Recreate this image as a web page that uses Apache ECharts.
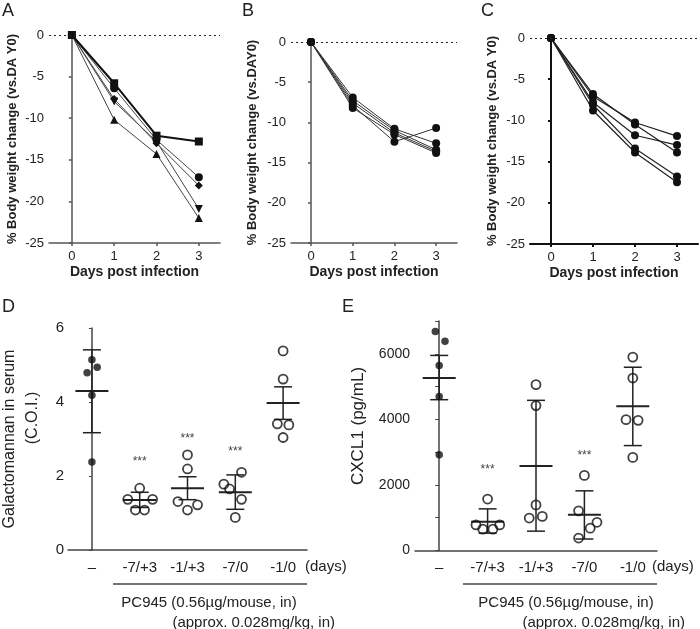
<!DOCTYPE html>
<html><head><meta charset="utf-8">
<script src="https://cdn.jsdelivr.net/npm/echarts@6/dist/echarts.min.js"></script>
<style>html,body{margin:0;padding:0;background:#fff}#c{width:700px;height:629px}</style>
</head><body><div id="c"></div>
<script>
// ---------- data ----------
const days = [0, 1, 2, 3];
// Panel A (body weight change, %)
const aSquare   = [0, -5.8, -12.1, -12.8];
const aCircle   = [0, -6.4, -12.6, -17.1];
const aDiamond  = [0, -7.7, -13.0, -18.1];
const aDownTri  = [0, -8.0, -12.8, -20.9];
const aTriangle = [0, -10.2, -14.3, -22.0];
// Panel B
const b1 = [0, -6.9, -10.8, -12.6];
const b2 = [0, -7.3, -11.0, -13.4];
const b3 = [0, -7.6, -11.3, -13.6];
const b4 = [0, -7.9, -12.4, -10.7];
const b5 = [0, -8.2, -11.5, -13.8];
// Panel C
const c1 = [0, -7.1, -10.25, -11.9];
const c2 = [0, -6.8, -10.5, -13.9];
const c3 = [0, -7.8, -11.8, -13.0];
const c4 = [0, -8.1, -13.4, -16.8];
const c5 = [0, -8.8, -13.9, -17.5];

// Panels D/E groups
const groups = ['\u2013', '-7/+3', '-1/+3', '-7/0', '-1/0'];
// Panel D: Galactomannan (C.O.I.)
const gmValues = [[5.14, 4.94, 4.79, 4.18, 2.38], [1.67, 1.37, 1.37, 1.08, 1.08], [2.57, 2.19, 1.31, 1.08, 1.22], [2.10, 1.78, 1.65, 1.37, 0.88], [5.38, 4.62, 3.41, 3.38, 3.04]];
const gmJitter = [[0, 0.11, -0.1, 0, 0], [0, -0.25, 0.27, -0.09, 0.1], [0, 0, -0.2, 0, 0.21], [0.13, -0.24, -0.12, 0.13, 0], [0, 0, -0.12, 0.12, 0]];
const gmMean = [4.30, 1.35, 1.67, 1.56, 3.97];
const gmLow  = [3.17, 1.15, 1.36, 1.10, 3.53];
const gmHigh = [5.41, 1.56, 1.98, 2.03, 4.41];
const gmStars = [null, 2.4, 3.0, 2.65, null];
// Panel E: CXCL1 (pg/mL)
const cxValues = [[6680, 6380, 5640, 4700, 2920], [1570, 780, 780, 650, 650], [5060, 4420, 1390, 990, 1040], [2290, 1210, 860, 680, 380], [5900, 5260, 3990, 3970, 2840]];
const cxJitter = [[-0.08, 0.12, 0, 0, 0], [0, -0.24, 0.25, -0.1, 0.11], [0, 0, 0, -0.14, 0.13], [0, -0.12, 0.26, 0.12, -0.12], [0, 0, -0.14, 0.11, 0]];
const cxMean = [5260, 880, 2580, 1090, 4400];
const cxLow  = [4600, 530, 590, 350, 3200];
const cxHigh = [5950, 1270, 4580, 1820, 5590];
const cxStars = [null, 2460, null, 2890, null];
// tick values
const dayTicks = [0, 1, 2, 3];

// ---------- helpers ----------
const FONT = '"Liberation Sans", Arial, sans-serif';
const pts = arr => days.map((d, i) => [d, arr[i]]);

function lineAxisX(grid, min, axisColor, axisW) {
  return {
    type: 'value', gridIndex: grid, min: min, max: 3.5,
    axisLine: {show: true, onZero: false, lineStyle: {color: axisColor, width: axisW}},
    axisTick: {show: true, length: 3, customValues: dayTicks, lineStyle: {color: axisColor, width: axisW}},
    axisLabel: {customValues: dayTicks, margin: 7, fontSize: 13, color: '#222', fontFamily: FONT},
    splitLine: {show: false},
    name: 'Days post infection', nameLocation: 'middle', nameGap: 22,
    nameTextStyle: {fontSize: 14, fontWeight: 'bold', color: '#222', fontFamily: FONT}
  };
}
function lineAxisY(grid, title, gap, axisColor, axisW) {
  return {
    type: 'value', gridIndex: grid, min: -25, max: 0, interval: 5,
    axisLine: {show: true, lineStyle: {color: axisColor, width: axisW}},
    axisTick: {show: true, length: 3, lineStyle: {color: axisColor, width: axisW}},
    axisLabel: {margin: 5, fontSize: 13, color: '#222', fontFamily: FONT},
    splitLine: {show: false},
    name: title, nameLocation: 'middle', nameGap: gap, nameRotate: 90,
    nameTextStyle: {fontSize: 13, fontWeight: 'bold', color: '#222', fontFamily: FONT}
  };
}
function lineSeries(xi, arr, symbol, opts) {
  opts = opts || {};
  return {
    type: 'line', xAxisIndex: xi, yAxisIndex: xi, data: pts(arr),
    symbol: symbol, symbolSize: opts.size || 7, symbolRotate: opts.rotate || 0,
    itemStyle: {color: '#111'},
    lineStyle: {color: opts.lineColor || '#444', width: opts.lineWidth || 1},
    z: opts.z || 3, animation: false, silent: true
  };
}
function zeroLine() {
  return {
    silent: true, symbol: 'none', label: {show: false},
    lineStyle: {type: [2, 3], color: '#222', width: 1.2},
    data: [{yAxis: 0}], animation: false
  };
}
function catAxis(grid) {
  return {
    type: 'category', gridIndex: grid, data: groups, boundaryGap: true,
    axisLine: {show: true, lineStyle: {color: '#444', width: 1.5}},
    axisTick: {show: false},
    axisLabel: {margin: 10, fontSize: 15, color: '#222', fontFamily: FONT}
  };
}
function posAxis(grid) {
  return {type: 'value', gridIndex: grid, min: -0.5, max: 4.5, show: false};
}
function scatterData(values, jitter, from, to) {
  const out = [];
  for (let g = from; g <= to; g++) {
    values[g].forEach((v, k) => out.push([g + jitter[g][k], v]));
  }
  return out;
}
function errSeries(xi, yi, mean, low, high) {
  return {
    type: 'custom', xAxisIndex: xi, yAxisIndex: yi, animation: false, silent: true, z: 2,
    data: mean.map((m, i) => [i, m, low[i], high[i]]),
    renderItem: function (params, api) {
      const c = api.coord([api.value(0), api.value(1)]);
      const lo = api.coord([api.value(0), api.value(2)]);
      const hi = api.coord([api.value(0), api.value(3)]);
      const st = {stroke: '#222', lineWidth: 1.5};
      return {type: 'group', children: [
        {type: 'line', shape: {x1: c[0], y1: hi[1], x2: c[0], y2: lo[1]}, style: st},
        {type: 'line', shape: {x1: c[0] - 9, y1: hi[1], x2: c[0] + 9, y2: hi[1]}, style: st},
        {type: 'line', shape: {x1: c[0] - 9, y1: lo[1], x2: c[0] + 9, y2: lo[1]}, style: st},
        {type: 'line', shape: {x1: c[0] - 16.5, y1: c[1], x2: c[0] + 16.5, y2: c[1]}, style: {stroke: '#222', lineWidth: 2}}
      ]};
    }
  };
}
function starSeries(xi, yi, stars) {
  return {
    type: 'custom', xAxisIndex: xi, yAxisIndex: yi, animation: false, silent: true,
    data: stars.map((s, i) => [i, s]).filter(d => d[1] !== null),
    renderItem: function (params, api) {
      const p = api.coord([api.value(0), api.value(1)]);
      return {type: 'text', x: p[0], y: p[1],
        style: {text: '***', fill: '#444', font: '12px ' + FONT, align: 'center', verticalAlign: 'middle'}};
    }
  };
}
function filledScatter(xi, yi, values, jitter) {
  return {type: 'scatter', xAxisIndex: xi, yAxisIndex: yi, animation: false, silent: true, z: 3,
    data: scatterData(values, jitter, 0, 0), symbol: 'circle', symbolSize: 7.5,
    itemStyle: {color: '#111'}};
}
function openScatter(xi, yi, values, jitter) {
  return {type: 'scatter', xAxisIndex: xi, yAxisIndex: yi, animation: false, silent: true, z: 3,
    data: scatterData(values, jitter, 1, 4), symbol: 'circle', symbolSize: 9,
    itemStyle: {color: 'rgba(0,0,0,0)', borderColor: '#111', borderWidth: 1.8}};
}

const letterStyle = t => ({fill: '#222', font: '18px ' + FONT, text: t});
const annStyle = (t, extra) => Object.assign({fill: '#222', font: '15px ' + FONT, text: t}, extra || {});

const option = {
  backgroundColor: '#fff',
  animation: false,
  grid: [
    {left: 49, top: 35, width: 171, height: 208},
    {left: 291, top: 42, width: 166, height: 201},
    {left: 530, top: 38, width: 168, height: 206},
    {left: 68, top: 328, width: 239, height: 222},
    {left: 415, top: 321, width: 242, height: 229.5}
  ],
  xAxis: [
    lineAxisX(0, -0.54, '#555', 1.5),
    lineAxisX(1, -0.48, '#555', 1.5),
    lineAxisX(2, -0.5, '#111', 2),
    catAxis(3), posAxis(3),
    catAxis(4), posAxis(4)
  ],
  yAxis: [
    lineAxisY(0, '% Body weight change (vs.DA Y0)', 30, '#555', 1.5),
    lineAxisY(1, '% Body weight change (vs.DAY0)', 32, '#555', 1.5),
    lineAxisY(2, '% Body weight change (vs.DA Y0)', 31, '#111', 2),
    {type: 'value', gridIndex: 3, min: 0, max: 6, interval: 2,
      axisLine: {show: true, lineStyle: {color: '#444', width: 1.5}},
      axisTick: {show: true, length: 3, lineStyle: {color: '#444'}},
      axisLabel: {margin: 4, fontSize: 15, color: '#222', fontFamily: FONT},
      splitLine: {show: false}},
    {type: 'value', gridIndex: 4, min: 0, max: 7000, interval: 1000,
      axisLine: {show: true, lineStyle: {color: '#444', width: 1.5}},
      axisTick: {show: true, length: 4, lineStyle: {color: '#444'}},
      axisLabel: {margin: 5, fontSize: 14, color: '#222', fontFamily: FONT,
        formatter: v => (v % 2000 === 0 ? String(v) : '')},
      splitLine: {show: false}}
  ],
  series: [
    // A
    Object.assign(lineSeries(0, aCircle, 'circle', {size: 8}), {markLine: zeroLine()}),
    lineSeries(0, aDiamond, 'diamond', {size: 8}),
    lineSeries(0, aDownTri, 'triangle', {size: 8, rotate: 180}),
    lineSeries(0, aTriangle, 'triangle', {size: 8}),
    lineSeries(0, aSquare, 'rect', {size: 8, lineColor: '#111', lineWidth: 2, z: 4}),
    // B
    Object.assign(lineSeries(1, b1, 'circle', {size: 8, lineColor: '#333'}), {markLine: zeroLine()}),
    lineSeries(1, b2, 'circle', {size: 8, lineColor: '#333'}),
    lineSeries(1, b3, 'circle', {size: 8, lineColor: '#333'}),
    lineSeries(1, b4, 'circle', {size: 8, lineColor: '#333'}),
    lineSeries(1, b5, 'circle', {size: 8, lineColor: '#333'}),
    // C
    Object.assign(lineSeries(2, c1, 'circle', {size: 8, lineColor: '#222', lineWidth: 1.2}), {markLine: zeroLine()}),
    lineSeries(2, c2, 'circle', {size: 8, lineColor: '#222', lineWidth: 1.2}),
    lineSeries(2, c3, 'circle', {size: 8, lineColor: '#222', lineWidth: 1.2}),
    lineSeries(2, c4, 'circle', {size: 8, lineColor: '#222', lineWidth: 1.2}),
    lineSeries(2, c5, 'circle', {size: 8, lineColor: '#222', lineWidth: 1.2}),
    // D
    errSeries(4, 3, gmMean, gmLow, gmHigh),
    filledScatter(4, 3, gmValues, gmJitter),
    openScatter(4, 3, gmValues, gmJitter),
    starSeries(4, 3, gmStars),
    // E
    errSeries(6, 4, cxMean, cxLow, cxHigh),
    filledScatter(6, 4, cxValues, cxJitter),
    openScatter(6, 4, cxValues, cxJitter),
    starSeries(6, 4, cxStars)
  ],
  graphic: [
    {type: 'text', left: 2, top: 2, style: letterStyle('A')},
    {type: 'text', left: 242, top: 2, style: letterStyle('B')},
    {type: 'text', left: 481, top: 2, style: letterStyle('C')},
    {type: 'text', left: 2, top: 298, style: letterStyle('D')},
    {type: 'text', left: 342, top: 298, style: letterStyle('E')},
    // D y-axis title
    {type: 'text', x: 10, y: 439, rotation: Math.PI / 2,
      style: annStyle('Galactomannan in serum', {font: '16px ' + FONT, align: 'center', verticalAlign: 'middle'})},
    {type: 'text', x: 33, y: 418, rotation: Math.PI / 2,
      style: annStyle('(C.O.I.)', {font: '16px ' + FONT, align: 'center', verticalAlign: 'middle'})},
    // E y-axis title
    {type: 'text', x: 358, y: 426, rotation: Math.PI / 2,
      style: annStyle('CXCL1 (pg/mL)', {font: '17px ' + FONT, align: 'center', verticalAlign: 'middle'})},
    // D annotations
    {type: 'text', x: 305, y: 567, style: annStyle('(days)', {verticalAlign: 'middle'})},
    {type: 'line', shape: {x1: 113, y1: 584, x2: 307, y2: 584}, style: {stroke: '#444', lineWidth: 1.5}},
    {type: 'text', x: 209, y: 603, style: annStyle('PC945 (0.56\u00b5g/mouse, in)', {align: 'center', verticalAlign: 'middle'})},
    {type: 'text', x: 335, y: 623, style: annStyle('(approx. 0.028mg/kg, in)', {align: 'right', verticalAlign: 'middle'})},
    // E annotations
    {type: 'text', x: 652, y: 567, style: annStyle('(days)', {verticalAlign: 'middle'})},
    {type: 'line', shape: {x1: 463, y1: 584, x2: 657, y2: 584}, style: {stroke: '#444', lineWidth: 1.5}},
    {type: 'text', x: 566, y: 603, style: annStyle('PC945 (0.56\u00b5g/mouse, in)', {align: 'center', verticalAlign: 'middle'})},
    {type: 'text', x: 685, y: 623, style: annStyle('(approx. 0.028mg/kg, in)', {align: 'right', verticalAlign: 'middle'})}
  ]
};

const chart = echarts.init(document.getElementById('c'), null, {renderer: 'canvas'});
chart.setOption(option);
</script>
</body></html>
